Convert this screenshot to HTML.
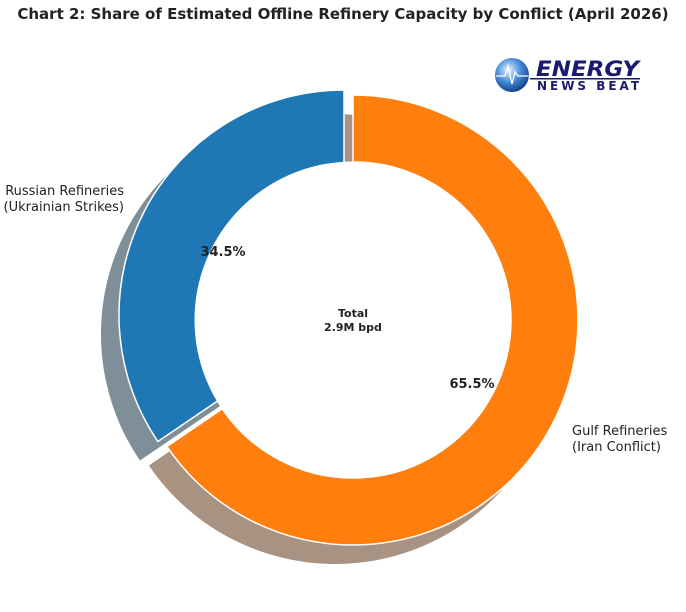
<!DOCTYPE html>
<html><head><style>
body{margin:0;background:#fff;}
svg text{font-family:"DejaVu Sans","Liberation Sans",sans-serif;}
</style></head><body>
<svg width="686" height="607" viewBox="0 0 686 607" xmlns="http://www.w3.org/2000/svg">
<defs>
<radialGradient id="g" cx="0.4" cy="0.35" r="0.7">
<stop offset="0" stop-color="#e8f2ff"/><stop offset="0.5" stop-color="#4a8fd8"/><stop offset="1" stop-color="#0d3a80"/>
</radialGradient>
</defs>
<text x="343" y="19" text-anchor="middle" font-size="15" font-weight="bold" fill="#222">Chart 2: Share of Estimated Offline Refinery Capacity by Conflict (April 2026)</text>
<g transform="translate(-18,19)">
<path d="M353,95 A225,225 0 1 1 166.9,446.5 L222.3,408.8 A158,158 0 1 0 353,162 Z" fill="#a89281"/>
<path d="M344,90 A225,225 0 0 0 157.9,441.5 L244.7,382.5 A120,120 0 0 1 344,195 Z" fill="#7f8f99"/>
</g>
<path d="M353,95 A225,225 0 1 1 166.9,446.5 L222.3,408.8 A158,158 0 1 0 353,162 Z" fill="#ff7f0e" stroke="#fff" stroke-width="1.5"/>
<path d="M344,90 A225,225 0 0 0 157.9,441.5 L244.7,382.5 A120,120 0 0 1 344,195 Z" fill="#1f77b4" stroke="#fff" stroke-width="1.5"/>
<circle cx="353" cy="320" r="158" fill="#fff" stroke="#fff" stroke-width="1"/>
<text x="223" y="256" text-anchor="middle" font-size="13" font-weight="bold" fill="#222">34.5%</text>
<text x="472" y="388" text-anchor="middle" font-size="13" font-weight="bold" fill="#222">65.5%</text>
<text x="353" y="317" text-anchor="middle" font-size="11" font-weight="bold" fill="#222">Total</text>
<text x="353" y="331" text-anchor="middle" font-size="11" font-weight="bold" fill="#222">2.9M bpd</text>
<text x="124" y="195" text-anchor="end" font-size="13" fill="#222">Russian Refineries</text>
<text x="124" y="211" text-anchor="end" font-size="13" fill="#222">(Ukrainian Strikes)</text>
<text x="572" y="435" font-size="13" fill="#222">Gulf Refineries</text>
<text x="572" y="451" font-size="13" fill="#222">(Iran Conflict)</text>
<circle cx="512" cy="75" r="17" fill="url(#g)"/>
<polyline points="496,76 505,76 508,66 512,84 515,72 518,76 535,76" fill="none" stroke="#fff" stroke-width="1.3"/>
<text x="536" y="76" font-size="21" font-weight="bold" font-style="italic" fill="#1a1a6e" textLength="103" lengthAdjust="spacingAndGlyphs">ENERGY</text>
<rect x="530" y="78" width="110" height="1.5" fill="#1a1a6e"/>
<text x="537" y="90" font-size="12" font-weight="bold" fill="#1a1a6e" textLength="102" lengthAdjust="spacing">NEWS BEAT</text>
</svg>
</body></html>
